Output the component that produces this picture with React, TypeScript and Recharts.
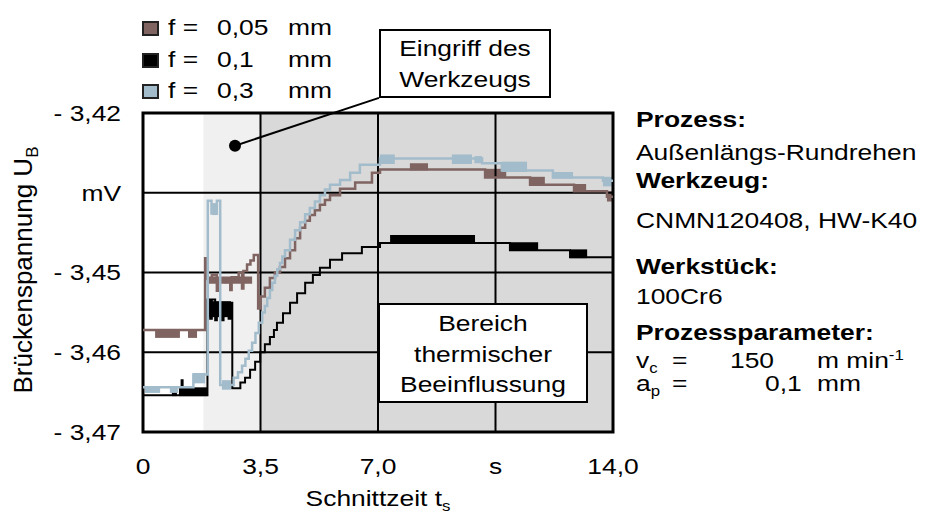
import React from 'react';
import {
  LineChart,
  Line,
  XAxis,
  YAxis,
  ReferenceArea,
  ReferenceLine,
  ReferenceDot,
} from 'recharts';

const FONT = '"Liberation Sans", Arial, sans-serif';
const FS = 22;
const SX = 1.2; // the figure is stretched horizontally

// axis ticks and their printed labels
const xTicks = [0, 3.5, 7, 10.5, 14];
const xTickLabels = ['0', '3,5', '7,0', 's', '14,0'];
const yTicks = [-3.47, -3.46, -3.45, -3.44, -3.43];
const yTickLabels = ['- 3,47', '- 3,46', '- 3,45', 'mV', '- 3,42'];

// background zones [t1, t2, colour]
const zones: [number, number, string][] = [
  [0, 1.8, '#ffffff'],
  [1.8, 3.5, '#f0f0f0'],
  [3.5, 14, '#d9d9d9'],
];

// measured signals [t in s, U_B in mV], stepped
const brownLine: [number, number][] = [
  [0, -3.4572], [1.85, -3.4482], [1.9, -3.4508], [2.05, -3.4503], [2.2, -3.4523], [2.24, -3.4508],
  [2.45, -3.4512], [2.6, -3.4522], [2.64, -3.4506], [2.85, -3.45], [2.95, -3.452], [2.99, -3.4498],
  [3.1, -3.449], [3.2, -3.4485], [3.3, -3.4478], [3.43, -3.4545], [3.5, -3.453], [3.63, -3.4519],
  [3.78, -3.4507], [3.93, -3.45], [4.08, -3.4493], [4.23, -3.4482], [4.38, -3.4472], [4.53, -3.4457],
  [4.68, -3.4444], [4.83, -3.4435], [4.97, -3.4428], [5.12, -3.4422], [5.27, -3.4415], [5.42, -3.4409],
  [5.57, -3.4403], [5.87, -3.4395], [6.32, -3.4387], [6.82, -3.4375], [7.06, -3.4371], [10.19, -3.4381],
  [11.53, -3.439], [12.84, -3.4398], [13.82, -3.4405], [14, -3.4405],
];
const blackLine: [number, number][] = [
  [0, -3.4654], [1.15, -3.4635], [1.18, -3.4654], [1.92, -3.4534], [2.0, -3.4558], [2.05, -3.4534],
  [2.15, -3.456], [2.2, -3.4538], [2.35, -3.456], [2.4, -3.4538], [2.55, -3.4558], [2.6, -3.4538],
  [2.66, -3.4645], [2.9, -3.4638], [3.04, -3.4632], [3.19, -3.4622], [3.34, -3.4612], [3.49, -3.46],
  [3.63, -3.459], [3.78, -3.4581], [3.9, -3.4572], [3.99, -3.4563], [4.17, -3.4551], [4.38, -3.4538],
  [4.59, -3.4526], [4.83, -3.4513], [5.06, -3.4503], [5.27, -3.4494], [5.57, -3.4484], [5.93, -3.4476],
  [6.52, -3.4468], [7.06, -3.4463], [10.93, -3.4472], [12.72, -3.4481], [14, -3.4481],
];
const blueLine: [number, number][] = [
  [0, -3.4644], [1.5, -3.4628], [1.93, -3.441], [2.04, -3.4426], [2.2, -3.441], [2.3, -3.4641],
  [2.7, -3.4632], [2.83, -3.4625], [2.95, -3.4617], [3.05, -3.4608], [3.15, -3.4598], [3.25, -3.4588],
  [3.35, -3.4576], [3.45, -3.4563], [3.55, -3.455], [3.63, -3.4542], [3.7, -3.4532], [3.78, -3.4522],
  [3.85, -3.4513], [3.93, -3.4504], [4.0, -3.4496], [4.08, -3.4488], [4.15, -3.448], [4.23, -3.4472],
  [4.38, -3.4459], [4.53, -3.4447], [4.68, -3.4437], [4.83, -3.4427], [4.97, -3.4419], [5.12, -3.4411],
  [5.27, -3.4403], [5.42, -3.4396], [5.57, -3.439], [5.87, -3.4384], [6.17, -3.4375], [6.46, -3.4365],
  [7.06, -3.4357], [10.1, -3.4363], [10.69, -3.4372], [12.21, -3.4381], [13.7, -3.4385], [14, -3.4385],
];

// noisy stretches drawn as filled bands [t1, t2, top, bottom]
const brownBlocks: [number, number, number, number][] = [
  [0.36, 1.1, -3.4572, -3.4582], [1.34, 1.61, -3.4572, -3.4582], [1.95, 3.25, -3.4505, -3.4514],
  [7.95, 8.49, -3.4363, -3.4372], [10.19, 10.82, -3.437, -3.4381], [11.53, 11.97, -3.438, -3.4391],
  [12.84, 13.2, -3.4389, -3.44], [13.82, 14, -3.4398, -3.4411],
];
const blackBlocks: [number, number, number, number][] = [
  [0.86, 1.01, -3.4644, -3.4655], [1.07, 1.91, -3.4644, -3.4655], [1.97, 2.62, -3.4536, -3.4556],
  [7.36, 9.89, -3.4453, -3.4464], [10.93, 11.77, -3.4462, -3.4473], [12.72, 13.23, -3.4471, -3.4482],
];
const blueBlocks: [number, number, number, number][] = [
  [0.06, 0.51, -3.4644, -3.4651], [0.8, 1.04, -3.4644, -3.4651], [1.49, 1.85, -3.4626, -3.4639],
  [2.06, 2.23, -3.4413, -3.4428], [2.35, 2.62, -3.4635, -3.4647], [7.06, 7.5, -3.4352, -3.4364],
  [9.2, 9.8, -3.4352, -3.4364], [9.87, 10.1, -3.4354, -3.4363], [10.69, 11.44, -3.4361, -3.4374],
  [12.21, 12.81, -3.4374, -3.4382], [13.7, 14, -3.438, -3.4392],
];

// callout "Eingriff des Werkzeugs": dot and box corner
const calloutDot: [number, number] = [2.74, -3.4341];
const calloutEnd: [number, number] = [7.03, -3.4281];

const BROWN = '#7f6461';
const BLACK = '#000000';
const BLUE = '#a3bccb';

const series = [
  { name: '0,05', color: BROWN, line: brownLine, blocks: brownBlocks, width: 2.5 },
  { name: '0,1', color: BLACK, line: blackLine, blocks: blackBlocks, width: 2 },
  { name: '0,3', color: BLUE, line: blueLine, blocks: blueBlocks, width: 2.5 },
];

const XTick = (props: any) => {
  const { x, y, payload } = props;
  const i = xTicks.indexOf(payload.value);
  return (
    <text x={x} y={y + 42} textAnchor="middle" fontSize={FS} fontFamily={FONT} fill="#000"
      transform={`translate(${x},0) scale(${SX},1) translate(${-x},0)`}>
      {xTickLabels[i]}
    </text>
  );
};

const YTick = (props: any) => {
  const { x, y, payload } = props;
  const i = yTicks.findIndex(v => Math.abs(v - payload.value) < 1e-6);
  return (
    <text x={x} y={y + 8} textAnchor="end" fontSize={FS} fontFamily={FONT} fill="#000"
      transform={`translate(${x},0) scale(${SX},1) translate(${-x},0)`}>
      {yTickLabels[i]}
    </text>
  );
};

function Txt({ x, y, anchor = 'start', bold = false, children }: any) {
  const tx = anchor === 'middle' ? 'translateX(-50%) ' : anchor === 'end' ? 'translateX(-100%) ' : '';
  const origin = anchor === 'middle' ? '50% 50%' : anchor === 'end' ? '100% 50%' : '0 50%';
  return (
    <div style={{
      position: 'absolute', left: x, top: y - 18.6, fontSize: FS, lineHeight: `${FS}px`,
      fontWeight: bold ? 700 : 400, whiteSpace: 'nowrap', transform: `${tx}scaleX(${SX})`,
      transformOrigin: origin,
    }}>
      {children}
    </div>
  );
}

const sub = { fontSize: 14, position: 'relative' as const, top: 5 };
const sup = { fontSize: 14, position: 'relative' as const, top: -8 };

export default function App() {
  return (
    <div style={{ position: 'absolute', left: 0, top: 0, width: 931, height: 520, background: '#fff', fontFamily: FONT, color: '#000' }}>
      <LineChart width={931} height={520} margin={{ top: 113, right: 318, bottom: 58, left: 83 }}>
        <XAxis type="number" dataKey="t" domain={[0, 14]} ticks={xTicks} interval={0} allowDataOverflow
          axisLine={false} tickLine={false} tickSize={0} tickMargin={0} height={30} tick={XTick} />
        <YAxis type="number" domain={[-3.47, -3.43]} ticks={yTicks} interval={0} allowDataOverflow
          axisLine={false} tickLine={false} tickSize={0} tickMargin={22} width={60} tick={YTick} />
        {zones.map(([a, b, c]) => (
          <ReferenceArea key={'z' + a} x1={a} x2={b} y1={-3.47} y2={-3.43} fill={c} fillOpacity={1} stroke="none" />
        ))}
        {xTicks.map(v => <ReferenceLine key={'gx' + v} x={v} stroke="#000" strokeWidth={2} />)}
        {yTicks.map(v => <ReferenceLine key={'gy' + v} y={v} stroke="#000" strokeWidth={2} />)}
        {series.map(s => s.blocks.map(([a, b, hi, lo]) => (
          <ReferenceArea key={s.name + a} x1={a} x2={b} y1={lo} y2={hi} fill={s.color} fillOpacity={1} stroke="none" />
        )))}
        {series.map(s => (
          <Line key={s.name} data={s.line.map(([t, v]) => ({ t, v }))} dataKey="v" type="stepAfter"
            stroke={s.color} strokeWidth={s.width} dot={false} activeDot={false} isAnimationActive={false} />
        ))}
        <ReferenceArea x1={0} x2={14} y1={-3.47} y2={-3.43} fill="none" stroke="#000" strokeWidth={3} />
        <ReferenceLine segment={[{ x: calloutDot[0], y: calloutDot[1] }, { x: calloutEnd[0], y: calloutEnd[1] }]}
          stroke="#000" strokeWidth={2} ifOverflow="visible" />
        <ReferenceDot x={calloutDot[0]} y={calloutDot[1]} r={6} fill="#000" stroke="none" />
      </LineChart>

      {/* legend */}
      {series.map((s, i) => {
        const base = [35.5, 67.5, 98.5][i];
        return (
          <React.Fragment key={'lg' + s.name}>
            <div style={{ position: 'absolute', left: 142, top: base - 15, width: 13, height: 11, background: s.color, border: '2px solid #222' }} />
            <Txt x={168} y={base}>f =</Txt>
            <Txt x={217} y={base}>{s.name}</Txt>
            <Txt x={288} y={base}>mm</Txt>
          </React.Fragment>
        );
      })}

      {/* callout boxes */}
      <div style={{ position: 'absolute', left: 379, top: 29, width: 168, height: 65, background: '#fff', border: '2px solid #000' }} />
      <Txt x={465} y={57} anchor="middle">Eingriff des</Txt>
      <Txt x={465} y={88} anchor="middle">Werkzeugs</Txt>

      <div style={{ position: 'absolute', left: 378, top: 303, width: 206, height: 96, background: '#fff', border: '2px solid #000' }} />
      <Txt x={483} y={332} anchor="middle">Bereich</Txt>
      <Txt x={483} y={363} anchor="middle">thermischer</Txt>
      <Txt x={483} y={393} anchor="middle">Beeinflussung</Txt>

      {/* axis titles */}
      <div style={{ position: 'absolute', left: 25, top: 270, fontSize: 26, lineHeight: '26px', whiteSpace: 'nowrap', transform: 'translate(-50%,-50%) rotate(-90deg)' }}>
        Brückenspannung U<span style={{ fontSize: 17, position: 'relative', top: 6 }}>B</span>
      </div>
      <Txt x={378} y={507} anchor="middle">Schnittzeit t<span style={sub}>s</span></Txt>

      {/* process info */}
      <Txt x={636} y={128} bold>Prozess:</Txt>
      <Txt x={636} y={161}>Außenlängs-Rundrehen</Txt>
      <Txt x={636} y={189} bold>Werkzeug:</Txt>
      <Txt x={636} y={229}>CNMN120408, HW-K40</Txt>
      <Txt x={636} y={275} bold>Werkstück:</Txt>
      <Txt x={636} y={305}>100Cr6</Txt>
      <Txt x={636} y={341} bold>Prozessparameter:</Txt>
      <Txt x={636} y={369}>v<span style={sub}>c</span></Txt>
      <Txt x={672} y={369}>=</Txt>
      <Txt x={730} y={369}>150</Txt>
      <Txt x={817} y={369}>m min<span style={sup}>-1</span></Txt>
      <Txt x={636} y={392}>a<span style={sub}>p</span></Txt>
      <Txt x={672} y={392}>=</Txt>
      <Txt x={765} y={392}>0,1</Txt>
      <Txt x={817} y={392}>mm</Txt>
    </div>
  );
}
